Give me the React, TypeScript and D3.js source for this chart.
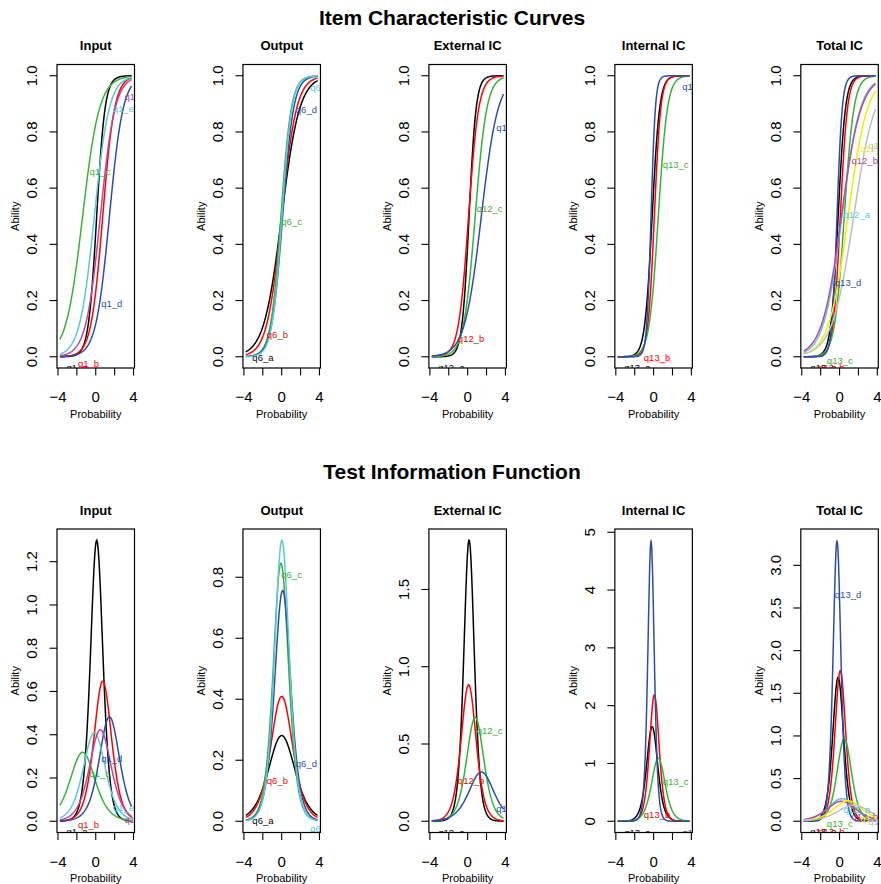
import React from 'react'
import * as d3 from 'd3'

// item parameters (discrimination a, difficulty b)
const panelTitles = ['Input', 'Output', 'External IC', 'Internal IC', 'Total IC']

const inputItems = ['q1_a', 'q1_b', 'q1_c', 'q1_d', 'q1_e', 'q1_f']
const inputDiscr = [2.28, 1.61, 1.13, 1.39, 1.28, 1.3]
const inputDiff = [0.1, 0.74, -1.39, 1.45, -0.15, 0.49]

const outputItems = ['q6_a', 'q6_b', 'q6_c', 'q6_d', 'q6_e']
const outputDiscr = [1.06, 1.28, 1.84, 1.74, 1.92]
const outputDiff = [0.0, 0.0, -0.08, 0.1, 0.02]

const externalItems = ['q12_a', 'q12_b', 'q12_c', 'q12_d']
const externalDiscr = [2.7, 1.88, 1.64, 1.13]
const externalDiff = [0.15, 0.1, 0.8, 1.45]

const internalItems = ['q13_a', 'q13_b', 'q13_c', 'q13_d']
const internalDiscr = [2.56, 2.96, 2.09, 4.41]
const internalDiff = [-0.15, 0.08, 0.5, -0.27]

const totalItems = ['q13_a', 'q13_b', 'q13_c', 'q13_d', 'q12_a', 'q12_b', 'q12_c', 'q12_d']
const totalDiscr = [2.6, 2.66, 1.97, 3.63, 1.03, 0.97, 0.98, 0.87]
const totalDiff = [-0.15, 0.08, 0.5, -0.27, 0.25, 0.2, 0.9, 1.5]

const itemColors = ['#000000', '#FF0000', '#36B336', '#2A4DAA', '#5CC8DA', '#B848A0', '#F2EE00', '#BEBEBE']

const iccTicks = [0, 0.2, 0.4, 0.6, 0.8, 1.0]
const infoTicks = [
  [0, 0.2, 0.4, 0.6, 0.8, 1.0, 1.2],
  [0, 0.2, 0.4, 0.6, 0.8],
  [0, 0.5, 1.0, 1.5],
  [0, 1, 2, 3, 4, 5],
  [0, 0.5, 1.0, 1.5, 2.0, 2.5, 3.0],
]
const thetaTicks = [-4, -2, 0, 2, 4]
const thetaLabels = [-4, 0, 4]

const groups = [
  { items: inputItems, a: inputDiscr, b: inputDiff },
  { items: outputItems, a: outputDiscr, b: outputDiff },
  { items: externalItems, a: externalDiscr, b: externalDiff },
  { items: internalItems, a: internalDiscr, b: internalDiff },
  { items: totalItems, a: totalDiscr, b: totalDiff },
]

// theta grid like ltm's plot (zrange -3.8..3.8, 100 points)
const theta = d3.range(100).map(i => -3.8 + (i * 7.6) / 99)

const W = 881
const H = 884
const boxW = 77.5
const boxH = 303.5
const rowTops = [64.5, 529]
const font = 'Liberation Sans, Arial, Helvetica, sans-serif'

const prob = (a, b, t) => 1 / (1 + Math.exp(-a * (t - b)))

function Panel({ col, row, group }) {
  const left = 57 + col * 185.95
  const top = rowTops[row]
  const bottom = top + boxH
  const info = row === 1

  const series = group.items.map((name, k) =>
    theta.map(t => {
      const p = prob(group.a[k], group.b[k], t)
      return info ? group.a[k] * group.a[k] * p * (1 - p) : p
    })
  )
  const ymax = info ? d3.max(series, s => d3.max(s)) : 1
  const x = d3.scaleLinear().domain([-3.8 - 0.304, 3.8 + 0.304]).range([left, left + boxW])
  const y = d3.scaleLinear().domain([-0.04 * ymax, 1.04 * ymax]).range([bottom, top])
  const yTicks = info ? infoTicks[col] : iccTicks
  const step = yTicks[1] - yTicks[0]
  const fmt = d3.format('.' + d3.precisionFixed(step) + 'f')

  const line = d3.line().x((d, i) => x(theta[i])).y(d => y(d))
  const n = group.items.length
  const pos = d3.range(n).map(k => Math.round(10 + (k * 80) / (n - 1)) - 1)
  const clipId = `clip-${row}-${col}`

  return (
    <g>
      <defs>
        <clipPath id={clipId}>
          <rect x={left} y={top} width={boxW} height={boxH} />
        </clipPath>
      </defs>
      <text x={left + boxW / 2} y={top - 14.5 - (row === 1 ? 0 : 0)} textAnchor="middle" fontWeight="bold" fontSize={13}>
        {panelTitles[col]}
      </text>
      <g clipPath={`url(#${clipId})`}>
        {series.map((s, k) => (
          <path key={k} d={line(s)} fill="none" stroke={itemColors[k]} strokeWidth={1.5} />
        ))}
        {group.items.map((name, k) => (
          <text key={name} x={x(theta[pos[k]])} y={y(series[k][pos[k]]) + 14.5} fontSize={9.5} fill={itemColors[k]}>
            {name}
          </text>
        ))}
      </g>
      <rect x={left} y={top} width={boxW} height={boxH} fill="none" stroke="#000" strokeWidth={1.2} />
      {yTicks.map(t => (
        <g key={t}>
          <line x1={left} x2={left - 7.5} y1={y(t)} y2={y(t)} stroke="#000" strokeWidth={1.1} />
          <text transform={`translate(${left - 20},${y(t)}) rotate(-90)`} textAnchor="middle" fontSize={15}>
            {fmt(t)}
          </text>
        </g>
      ))}
      {thetaTicks.map(t => (
        <line key={t} x1={x(t)} x2={x(t)} y1={bottom} y2={bottom + 7.5} stroke="#000" strokeWidth={1.1} />
      ))}
      {thetaLabels.map(t => (
        <text key={t} x={x(t)} y={bottom + 34} textAnchor="middle" fontSize={15}>
          {t < 0 ? '\u2212' + Math.abs(t) : t}
        </text>
      ))}
      <text x={left + boxW / 2} y={bottom + 49.5} textAnchor="middle" fontSize={11}>
        Probability
      </text>
      <text transform={`translate(${left - 38},${(top + bottom) / 2}) rotate(-90)`} textAnchor="middle" fontSize={11}>
        Ability
      </text>
    </g>
  )
}

export default function App() {
  return (
    <svg width={W} height={H} style={{ position: 'absolute', left: 0, top: 0, background: '#fff' }} fontFamily={font}>
      <rect width={W} height={H} fill="#fff" />
      <text x={452} y={25} textAnchor="middle" fontWeight="bold" fontSize={21}>
        Item Characteristic Curves
      </text>
      <text x={452} y={479} textAnchor="middle" fontWeight="bold" fontSize={21}>
        Test Information Function
      </text>
      {[0, 1].map(row =>
        groups.map((g, col) => <Panel key={`${row}-${col}`} row={row} col={col} group={g} />)
      )}
    </svg>
  )
}
